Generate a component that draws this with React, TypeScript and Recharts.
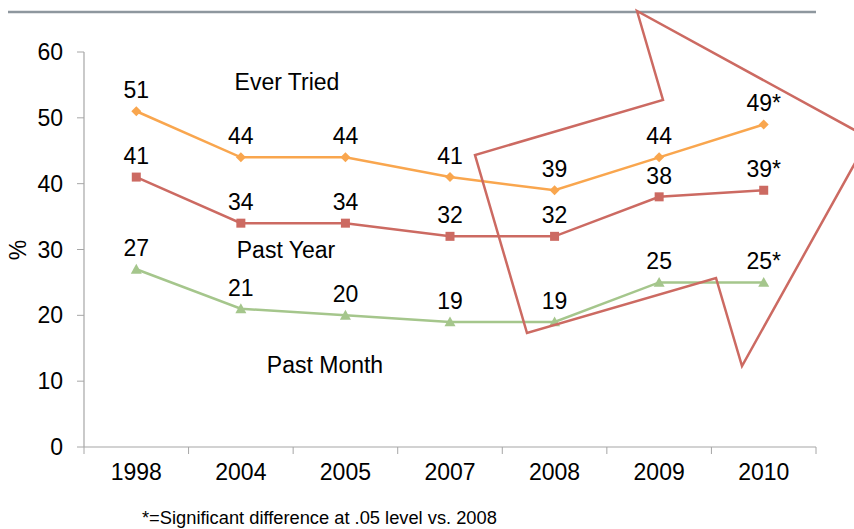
import { LineChart, Line, XAxis, YAxis, LabelList } from "recharts";

const years = ["1998", "2004", "2005", "2007", "2008", "2009", "2010"];
const everTried = [51, 44, 44, 41, 39, 44, 49];
const pastYear = [41, 34, 34, 32, 32, 38, 39];
const pastMonth = [27, 21, 20, 19, 19, 25, 25];
// significant vs. 2008 (marked with *)
const significant = [false, false, false, false, false, false, true];
const yTicks = [0, 10, 20, 30, 40, 50, 60];

const W = 854;
const H = 529;
const PLOT_LEFT = 84;
const PLOT_RIGHT = 816;
const PLOT_TOP = 52;
const PLOT_BOTTOM = 447;
const BAND = (PLOT_RIGHT - PLOT_LEFT) / years.length;

const ORANGE = "#F9A64E";
const RED = "#CC6A62";
const GREEN = "#A5C68C";
const AXIS = "#A6A6A6";
const FONT = "'Liberation Sans', Arial, sans-serif";
const FS = 23;

const withStar = (v: number, i: number) => `${v}${significant[i] ? "*" : ""}`;

const data = years.map((year, i) => ({
  year,
  everTried: everTried[i],
  pastYear: pastYear[i],
  pastMonth: pastMonth[i],
  everTriedLabel: withStar(everTried[i], i),
  pastYearLabel: withStar(pastYear[i], i),
  pastMonthLabel: withStar(pastMonth[i], i),
}));

const Diamond = (p: any) => {
  const { cx, cy } = p;
  if (cx == null || cy == null) return null;
  const r = 5;
  return <path key={`d${p.index}`} d={`M${cx},${cy - r}L${cx + r},${cy}L${cx},${cy + r}L${cx - r},${cy}Z`} fill={ORANGE} />;
};

const Square = (p: any) => {
  const { cx, cy } = p;
  if (cx == null || cy == null) return null;
  const s = 9;
  return <rect key={`s${p.index}`} x={cx - s / 2} y={cy - s / 2} width={s} height={s} fill={RED} />;
};

const Triangle = (p: any) => {
  const { cx, cy } = p;
  if (cx == null || cy == null) return null;
  const r = 5.5;
  return <path key={`t${p.index}`} d={`M${cx},${cy - r}L${cx + r},${cy + r * 0.8}L${cx - r},${cy + r * 0.8}Z`} fill={GREEN} />;
};

const XTick = (p: any) => {
  const { x, y, payload, index } = p;
  const half = BAND / 2;
  return (
    <g>
      <line x1={x - half} x2={x - half} y1={y} y2={y + 7} stroke={AXIS} strokeWidth={1} />
      {index === years.length - 1 && (
        <line x1={x + half} x2={x + half} y1={y} y2={y + 7} stroke={AXIS} strokeWidth={1} />
      )}
      <text x={x} y={y + 33} textAnchor="middle" fontSize={FS} fill="#000" fontFamily={FONT}>
        {payload.value}
      </text>
    </g>
  );
};

const labelStyle = { fontSize: FS, fill: "#000", fontFamily: FONT };

export default function App() {
  return (
    <div style={{ position: "absolute", left: 0, top: 0, width: W, height: H, background: "#fff", fontFamily: FONT }}>
      <LineChart
        width={W}
        height={H}
        data={data}
        margin={{ top: PLOT_TOP, right: W - PLOT_RIGHT, bottom: H - PLOT_BOTTOM - 40, left: 24 }}
      >
        <XAxis
          dataKey="year"
          scale="point"
          padding={{ left: BAND / 2, right: BAND / 2 }}
          height={40}
          tickLine={false}
          tickSize={0}
          tickMargin={0}
          axisLine={{ stroke: AXIS, strokeWidth: 1.2 }}
          tick={<XTick />}
          interval={0}
        />
        <YAxis
          width={60}
          domain={[0, 60]}
          ticks={yTicks}
          interval={0}
          tickSize={7}
          tickMargin={14}
          axisLine={{ stroke: AXIS, strokeWidth: 1.2 }}
          tickLine={{ stroke: AXIS }}
          tick={{ fontSize: FS, fill: "#000", fontFamily: FONT }}
        />
        <Line
          dataKey="everTried"
          stroke={ORANGE}
          strokeWidth={2.5}
          dot={Diamond}
          activeDot={false}
          isAnimationActive={false}
        >
          <LabelList dataKey="everTriedLabel" position="top" offset={13} style={labelStyle} />
        </Line>
        <Line
          dataKey="pastYear"
          stroke={RED}
          strokeWidth={2.5}
          dot={Square}
          activeDot={false}
          isAnimationActive={false}
        >
          <LabelList dataKey="pastYearLabel" position="top" offset={13} style={labelStyle} />
        </Line>
        <Line
          dataKey="pastMonth"
          stroke={GREEN}
          strokeWidth={2.5}
          dot={Triangle}
          activeDot={false}
          isAnimationActive={false}
        >
          <LabelList dataKey="pastMonthLabel" position="top" offset={13} style={labelStyle} />
        </Line>
      </LineChart>

      <svg
        width={W}
        height={H}
        style={{ position: "absolute", left: 0, top: 0, pointerEvents: "none" }}
      >
        <line x1={8} x2={816} y1={12} y2={12} stroke="#8E979E" strokeWidth={2.5} />
        <polygon
          points="637,11 663,100 475,155 527,333 716,278 742,366 869,138"
          fill="none"
          stroke={RED}
          strokeWidth={2.5}
          strokeLinejoin="miter"
        />
        <text x={287} y={90} textAnchor="middle" fontSize={FS} fontFamily={FONT} fill="#000">Ever Tried</text>
        <text x={286} y={258} textAnchor="middle" fontSize={FS} fontFamily={FONT} fill="#000">Past Year</text>
        <text x={325} y={373} textAnchor="middle" fontSize={FS} fontFamily={FONT} fill="#000">Past Month</text>
        <text x={0} y={0} transform="translate(26,250) rotate(-90)" textAnchor="middle" fontSize={FS} fontFamily={FONT} fill="#000">%</text>
        <text x={142} y={524} fontSize={18.3} fontFamily={FONT} fill="#000">*=Significant difference at .05 level vs. 2008</text>
      </svg>
    </div>
  );
}
